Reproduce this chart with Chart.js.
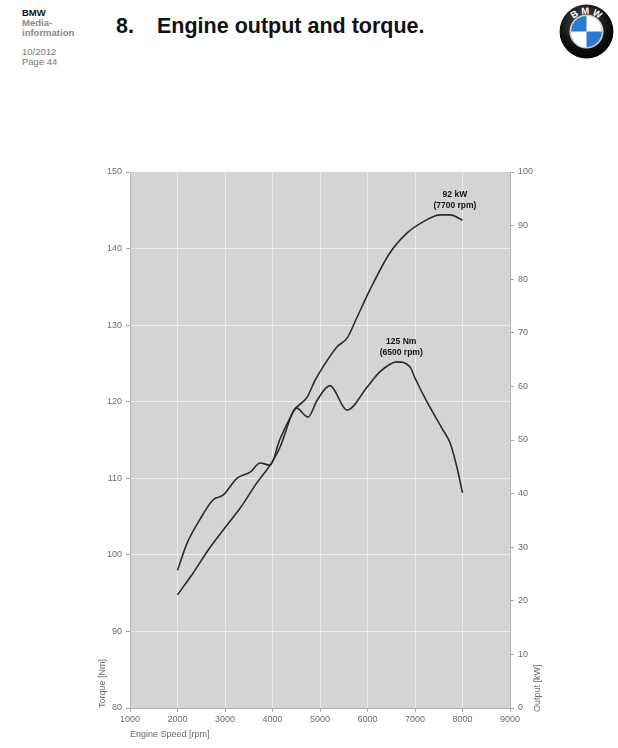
<!DOCTYPE html>
<html lang="en">

<head>
    <meta charset="UTF-8">
    <title>Engine output and torque</title>
    <script src="https://cdn.jsdelivr.net/npm/chart.js"></script>
    <style>
        body {
            margin: 0;
            width: 618px;
            height: 748px;
            background: #fff;
            font-family: "Liberation Sans", Arial, Helvetica, sans-serif;
            position: relative;
            overflow: hidden;
        }

        .kopf {
            position: absolute;
            left: 22px;
            top: 8px;
            font-size: 9.5px;
            line-height: 10px;
            color: #777;
        }

        .kopf b {
            color: #111;
        }

        .kopf .grau {
            color: #8a8a8a;
            font-weight: bold;
        }

        .titel {
            position: absolute;
            top: 14px;
            font-size: 21.5px;
            font-weight: bold;
            color: #111;
            white-space: pre;
        }

        .logo {
            position: absolute;
            left: 559px;
            top: 4px;
        }

        .grafik {
            position: absolute;
            left: 0;
            top: 150px;
        }
    </style>
</head>

<body>
    <div class="kopf">
        <b>BMW</b><br>
        <span class="grau">Media-<br>information</span><br>
        <div style="height:9px"></div>
        10/2012<br>
        Page 44
    </div>
    <div class="titel" style="left:116px">8.</div>
    <div class="titel" style="left:157px">Engine output and torque.</div>

    <svg class="logo" width="55" height="55" viewBox="0 0 100 100">
        <defs>
            <radialGradient id="ring" cx="45%" cy="35%" r="65%">
                <stop offset="0%" stop-color="#555" />
                <stop offset="70%" stop-color="#111" />
                <stop offset="100%" stop-color="#000" />
            </radialGradient>
            <path id="bogen" d="M 16 52 A 34 34 0 0 1 84 52" />
        </defs>
        <circle cx="50" cy="50" r="49" fill="url(#ring)" />
        <circle cx="50" cy="50" r="31" fill="#cfcfcf" />
        <circle cx="50" cy="50" r="28" fill="#fff" />
        <path d="M50 50 L50 22 A28 28 0 0 0 22 50 Z" fill="#2a7ad2" />
        <path d="M50 50 L50 78 A28 28 0 0 0 78 50 Z" fill="#2a7ad2" />
        <text font-family="Liberation Sans, Arial" font-weight="bold" font-size="17" fill="#fff">
            <textPath href="#bogen" startOffset="50%" text-anchor="middle">B  M  W</textPath>
        </text>
    </svg>

    <div class="grafik">
        <canvas id="myChart" width="618" height="598"></canvas>
    </div>

    <script>
        // Werte
        const drehzahlTicks = [1000, 2000, 3000, 4000, 5000, 6000, 7000, 8000, 9000];
        const drehmomentTicks = [80, 90, 100, 110, 120, 130, 140, 150];
        const leistungTicks = [0, 10, 20, 30, 40, 50, 60, 70, 80, 90, 100];

        const drehmomentRpm = [2000, 2200, 2470, 2750, 2960, 3250, 3530, 3740, 3950, 4150, 4370, 4500, 4750, 4940, 5210, 5570, 5990, 6260, 6620, 6900, 7000, 7250, 7590, 7740, 7880, 8000];
        const drehmomentNm = [98.0, 101.5, 104.6, 107.2, 107.8, 110.0, 110.8, 112.0, 111.7, 115.0, 117.9, 119.2, 118.0, 120.2, 122.1, 118.9, 121.9, 123.9, 125.2, 124.5, 123.1, 120.0, 116.3, 114.6, 111.5, 108.1];

        const leistungRpm = [2000, 2330, 2680, 3040, 3320, 3670, 3950, 4160, 4430, 4730, 4900, 5060, 5360, 5570, 5780, 6050, 6470, 6830, 7170, 7530, 7740, 8000];
        const leistungKw = [21.1, 25.2, 29.9, 34.1, 37.3, 42.0, 45.3, 48.7, 55.2, 58.0, 61.2, 63.6, 67.4, 69.0, 72.9, 78.0, 84.9, 88.6, 90.7, 92.0, 92.0, 91.0];

        const schrift = "'Liberation Sans', Arial, Helvetica, sans-serif";
        const grau = '#6b6b6b';

        // Hintergrund der Zeichenfläche
        const hintergrund = {
            id: 'hintergrund',
            beforeDraw(chart) {
                const { ctx, chartArea } = chart;
                ctx.save();
                ctx.fillStyle = '#d4d4d4';
                ctx.fillRect(chartArea.left, chartArea.top, chartArea.right - chartArea.left, chartArea.bottom - chartArea.top);
                ctx.restore();
            }
        };

        // Beschriftung der Spitzenwerte und rechter Achsentitel
        const spitzen = {
            id: 'spitzen',
            afterDatasetsDraw(chart) {
                const { ctx, scales, chartArea } = chart;
                ctx.save();
                ctx.font = 'bold 8.5px ' + schrift;
                ctx.fillStyle = '#111';
                ctx.textAlign = 'center';
                ctx.textBaseline = 'middle';

                let x = scales.x.getPixelForValue(7840);
                let y = scales.y1.getPixelForValue(92);
                ctx.fillText('92 kW', x, y - 20);
                ctx.fillText('(7700 rpm)', x, y - 9);

                x = scales.x.getPixelForValue(6710);
                y = scales.y.getPixelForValue(125.2);
                ctx.fillText('125 Nm', x, y - 20);
                ctx.fillText('(6500 rpm)', x, y - 9);

                // Titel der rechten Achse, von unten nach oben gelesen
                ctx.font = '9px ' + schrift;
                ctx.fillStyle = grau;
                ctx.textAlign = 'left';
                ctx.translate(scales.y1.right - 7, chartArea.bottom + 4);
                ctx.rotate(-Math.PI / 2);
                ctx.fillText('Output [kW]', 0, 0);
                ctx.restore();
            }
        };

        function punkte(xs, ys) {
            return xs.map((v, i) => ({ x: v, y: ys[i] }));
        }

        const linie = {
            fill: false,
            borderColor: '#2b2b2b',
            borderWidth: 1.6,
            pointRadius: 0,
            cubicInterpolationMode: 'monotone'
        };

        const tickSchrift = { color: grau, font: { family: schrift, size: 9 }, padding: 4, callback: v => String(v) };

        const config = {
            type: 'line',
            data: {
                datasets: [
                    Object.assign({ label: 'Torque [Nm]', data: punkte(drehmomentRpm, drehmomentNm), yAxisID: 'y' }, linie),
                    Object.assign({ label: 'Output [kW]', data: punkte(leistungRpm, leistungKw), yAxisID: 'y1' }, linie)
                ]
            },
            plugins: [hintergrund, spitzen],
            options: {
                responsive: false,
                animation: false,
                devicePixelRatio: 1,
                layout: { padding: { left: 95, right: 73, top: 22, bottom: 0 } },
                plugins: {
                    legend: { display: false },
                    tooltip: { enabled: false }
                },
                scales: {
                    x: {
                        type: 'linear',
                        min: 1000,
                        max: 9000,
                        afterFit: s => { s.height = 40; },
                        afterBuildTicks: s => { s.ticks = drehzahlTicks.map(v => ({ value: v })); },
                        grid: { color: '#ebebeb', tickColor: '#a8a8a8', tickLength: 4 },
                        border: { color: '#b3b3b3' },
                        ticks: Object.assign({}, tickSchrift, { padding: 2, maxRotation: 0 }),
                        title: {
                            display: true, text: 'Engine Speed [rpm]', align: 'start', color: grau,
                            font: { family: schrift, size: 9 }, padding: { top: 0, bottom: 8 }
                        }
                    },
                    y: {
                        position: 'left',
                        min: 80,
                        max: 150,
                        afterFit: s => { s.width = 35; },
                        afterBuildTicks: s => { s.ticks = drehmomentTicks.map(v => ({ value: v })); },
                        grid: {
                            color: c => c.tick && c.tick.value === 150 ? 'rgba(0,0,0,0)' : '#ebebeb',
                            tickColor: '#a8a8a8', tickLength: 4
                        },
                        border: { color: '#b3b3b3' },
                        ticks: tickSchrift,
                        title: {
                            display: true, text: 'Torque [Nm]', align: 'start', color: grau,
                            font: { family: schrift, size: 9 }, padding: { top: 2, bottom: 0 }
                        }
                    },
                    y1: {
                        position: 'right',
                        min: 0,
                        max: 100,
                        afterFit: s => { s.width = 35; },
                        afterBuildTicks: s => { s.ticks = leistungTicks.map(v => ({ value: v })); },
                        grid: { drawOnChartArea: false, color: '#a8a8a8', tickLength: 4 },
                        border: { color: '#b3b3b3' },
                        ticks: tickSchrift,
                        title: { display: false }
                    }
                }
            }
        };

        new Chart(document.getElementById('myChart'), config);
    </script>
</body>

</html>
